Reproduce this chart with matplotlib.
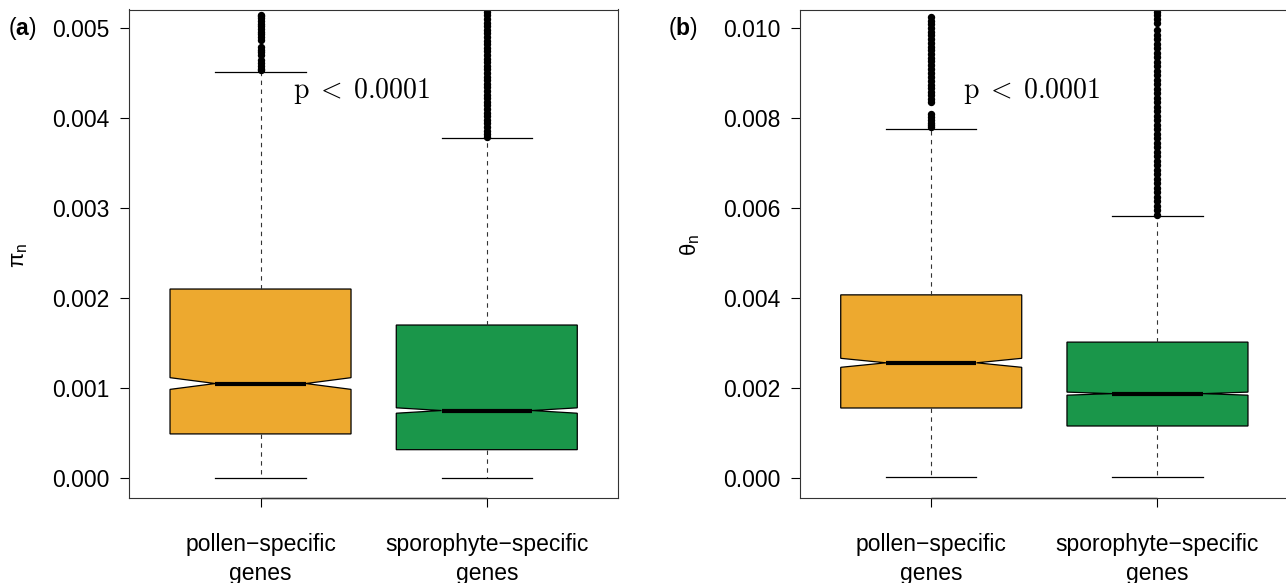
import numpy as np
import matplotlib
matplotlib.use("Agg")
import matplotlib.pyplot as plt

plt.rcParams['font.family'] = ['Liberation Sans', 'DejaVu Sans']
plt.rcParams['mathtext.fontset'] = 'custom'
plt.rcParams['mathtext.rm'] = 'Liberation Sans'
plt.rcParams['mathtext.it'] = 'Liberation Sans:italic'
plt.rcParams['mathtext.bf'] = 'Liberation Sans:bold'

groups = ['pollen\u2212specific\ngenes', 'sporophyte\u2212specific\ngenes']
box_colors = ['#EDA92F', '#1A964A']

# panel (a): pi_n, values in units of 1e-3
pi_lo = [0.0, 0.0]
pi_q1 = [0.49, 0.315]
pi_med = [1.05, 0.75]
pi_q3 = [2.10, 1.70]
pi_hi = [4.51, 3.78]
pi_notch = [0.065, 0.03]
pi_out_pollen = [4.53, 4.55, 4.58, 4.61, 4.64, 4.70, 4.73, 4.76, 4.79, 4.87, 4.90,
                 4.93, 4.96, 4.99, 5.02, 5.05, 5.08, 5.11, 5.13, 5.15]
pi_out_sporo = [3.79, 3.82, 3.86, 3.90, 3.94, 3.98, 4.02, 4.06, 4.10, 4.14, 4.18,
                4.22, 4.26, 4.30, 4.34, 4.38, 4.42, 4.46, 4.50, 4.54, 4.58, 4.62,
                4.66, 4.70, 4.74, 4.78, 4.82, 4.86, 4.90, 4.94, 4.98, 5.02, 5.06,
                5.10, 5.14, 5.18, 5.22, 5.26]

# panel (b): theta_n, values in units of 1e-3
th_lo = [0.03, 0.03]
th_q1 = [1.556, 1.156]
th_med = [2.56, 1.875]
th_q3 = [4.07, 3.02]
th_hi = [7.76, 5.82]
th_notch = [0.10, 0.034]
th_out_pollen = [7.80, 7.85, 7.90, 7.96, 8.02, 8.08, 8.36, 8.42, 8.50, 8.58, 8.66,
                 8.74, 8.83, 8.92, 9.00, 9.08, 9.17, 9.26, 9.34, 9.42, 9.50, 9.58,
                 9.66, 9.75, 9.84, 9.92, 10.00, 10.08, 10.16, 10.24]
th_out_sporo = [5.85, 5.95, 6.05, 6.15, 6.25, 6.35, 6.45, 6.55, 6.65, 6.75, 6.85,
                6.95, 7.05, 7.15, 7.25, 7.35, 7.45, 7.55, 7.65, 7.75, 7.85, 7.95,
                8.05, 8.15, 8.25, 8.35, 8.45, 8.55, 8.65, 8.75, 8.85, 8.95, 9.05,
                9.15, 9.25, 9.35, 9.45, 9.55, 9.65, 9.75, 9.85, 9.95,
                10.12, 10.20, 10.28, 10.36, 10.44]

pi_ticks = [0.000, 0.001, 0.002, 0.003, 0.004, 0.005]
th_ticks = [0.000, 0.002, 0.004, 0.006, 0.008, 0.010]


def draw_panel(ax, lo, q1, med, q3, hi, notch, outs, ylim, yticks, p_y):
    stats = []
    for i in range(2):
        stats.append(dict(whislo=lo[i] * 1e-3, q1=q1[i] * 1e-3, med=med[i] * 1e-3,
                          q3=q3[i] * 1e-3, whishi=hi[i] * 1e-3,
                          cilo=(med[i] - notch[i]) * 1e-3,
                          cihi=(med[i] + notch[i]) * 1e-3,
                          fliers=np.array(outs[i]) * 1e-3))
    res = ax.bxp(stats, positions=[1, 2], widths=0.8, shownotches=True,
                 patch_artist=True,
                 boxprops=dict(edgecolor='black', linewidth=0.9),
                 medianprops=dict(color='black', linewidth=3, solid_capstyle='butt'),
                 whiskerprops=dict(color='#333333', linewidth=0.8, linestyle=(0, (4, 4))),
                 capprops=dict(color='black', linewidth=0.9),
                 flierprops=dict(marker='o', markerfacecolor='black',
                                 markeredgecolor='black', markersize=4.3))
    for patch, c in zip(res['boxes'], box_colors):
        patch.set_facecolor(c)
    ax.set_xlim(0.42, 2.58)
    ax.set_ylim(ylim)
    ax.set_yticks(yticks)
    ax.set_yticklabels(['%.3f' % t for t in yticks])
    ax.set_xticks([1, 2])
    ax.set_xticklabels(groups, linespacing=1.35)
    ax.tick_params(axis='y', direction='out', length=6.3, width=0.8, pad=7.7,
                   labelsize=16.5)
    ax.tick_params(axis='x', direction='out', length=6.3, width=0.8, pad=19,
                   labelsize=16.5)
    for s in ax.spines.values():
        s.set_color('#333333')
        s.set_linewidth(0.8)
    ax.hlines(ylim[0], 1, 2, color='black', lw=1, clip_on=False)
    ax.text(1.142, p_y, r'$\mathrm{p}\;<\;0.0001$', math_fontfamily='cm',
            fontsize=20, ha='left', va='center')


fig = plt.figure(figsize=(12.86, 5.83), dpi=100)
W, H = 1286.0, 583.0
ax_a = fig.add_axes([129.3 / W, 1 - 498 / H, 488.7 / W, 488.5 / H])
ax_b = fig.add_axes([800 / W, 1 - 498 / H, 488.7 / W, 488.5 / H])

draw_panel(ax_a, pi_lo, pi_q1, pi_med, pi_q3, pi_hi, pi_notch,
           [pi_out_pollen, pi_out_sporo], (-0.000222, 0.005206), pi_ticks, 0.0043)
draw_panel(ax_b, th_lo, th_q1, th_med, th_q3, th_hi, th_notch,
           [th_out_pollen, th_out_sporo], (-0.000444, 0.010411), th_ticks, 0.0086)

fig.text(20 / W, 1 - 255 / H, r'$\mathrm{\pi_n}$', rotation=90, fontsize=16,
         ha='center', va='center')
fig.text(690 / W, 1 - 245 / H, r'$\mathrm{\theta_n}$', rotation=90, fontsize=16,
         ha='center', va='center')
fig.text(8 / W, 1 - 28 / H, r'($\mathbf{a}$)', fontsize=16.5, ha='left', va='center')
fig.text(668 / W, 1 - 28 / H, r'($\mathbf{b}$)', fontsize=16.5, ha='left', va='center')

fig.savefig('out.png', dpi=100)
